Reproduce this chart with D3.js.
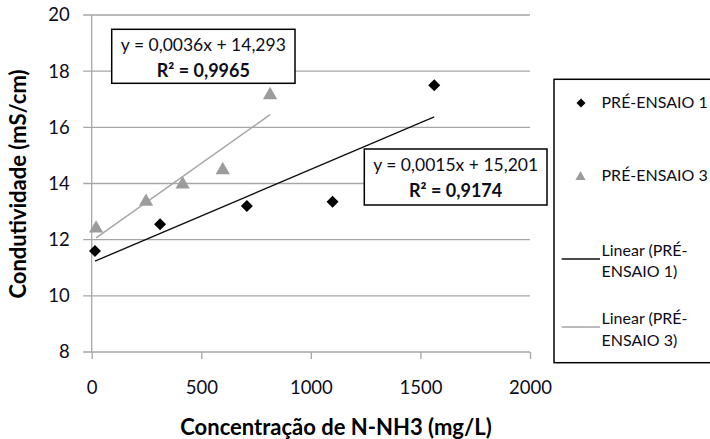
<!DOCTYPE html>
<html><head><meta charset="utf-8">
<script src="https://cdn.jsdelivr.net/npm/d3@7/dist/d3.min.js"></script>
<style>
body{margin:0;background:#fff;}
svg{display:block;font-family:Lato,"Open Sans",sans-serif;}
</style></head>
<body><svg id="c" width="710" height="439"></svg>
<script>
const xTicks = [0, 500, 1000, 1500, 2000];
const yTicks = [8, 10, 12, 14, 16, 18, 20];
const s1x = [15, 312, 708, 1099, 1563];
const s1y = [11.6, 12.55, 13.2, 13.35, 17.5];
const s3x = [20, 248, 415, 598, 814];
const s3y = [12.4, 13.35, 13.97, 14.48, 17.15];
const eq1 = ["y = 0,0036x + 14,293", "R² = 0,9965"];
const eq2 = ["y = 0,0015x + 15,201", "R² = 0,9174"];
const legendLabels = [["PRÉ-ENSAIO 1"], ["PRÉ-ENSAIO 3"], ["Linear (PRÉ-", "ENSAIO 1)"], ["Linear (PRÉ-", "ENSAIO 3)"]];
const xTitle = "Concentração de N-NH3 (mg/L)";
const yTitle = "Condutividade (mS/cm)";

const svg = d3.select("#c");
const x = d3.scaleLinear().domain([0, 2000]).range([91.7, 530]);
const y = d3.scaleLinear().domain([8, 20]).range([352, 15]);
const gridCol = "#a6a6a6";
const txtCol = "#0d0d1a";

svg.append("g").selectAll("line").data(yTicks).join("line")
  .attr("x1", x(0) - 8.5).attr("x2", x(2000))
  .attr("y1", d => y(d)).attr("y2", d => y(d))
  .attr("stroke", gridCol).attr("stroke-width", 1.3);

svg.append("line").attr("x1", x(0)).attr("x2", x(0)).attr("y1", y(20)).attr("y2", y(8))
  .attr("stroke", gridCol).attr("stroke-width", 1.3);

const xa = svg.append("g").attr("transform", `translate(0,${y(8)})`)
  .call(d3.axisBottom(x).tickValues(xTicks).tickSize(7).tickPadding(22).tickFormat(d3.format("d")));
xa.select(".domain").remove();
xa.selectAll(".tick line").attr("stroke", gridCol).attr("stroke-width", 1.3);
xa.selectAll(".tick text").attr("font-size", 18.5).attr("fill", txtCol).attr("font-family", "Lato");

const ya = svg.append("g").attr("transform", `translate(${x(0)},0)`)
  .call(d3.axisLeft(y).tickValues(yTicks).tickSize(0).tickPadding(22).tickFormat(d3.format("d")));
ya.select(".domain").remove();
ya.selectAll(".tick text").attr("font-size", 18.5).attr("fill", txtCol).attr("font-family", "Lato");

function fit(xs, ys) {
  const n = xs.length, mx = d3.mean(xs), my = d3.mean(ys);
  let sxy = 0, sxx = 0;
  for (let i = 0; i < n; i++) { sxy += (xs[i]-mx)*(ys[i]-my); sxx += (xs[i]-mx)**2; }
  const b = sxy / sxx, a = my - b * mx;
  const x0 = d3.min(xs), x1 = d3.max(xs);
  return [[x0, a + b*x0], [x1, a + b*x1]];
}
const line = d3.line().x(d => x(d[0])).y(d => y(d[1]));
svg.append("path").attr("d", line(fit(s3x, s3y))).attr("stroke", "#a6a6a6").attr("stroke-width", 1.4).attr("fill", "none");
svg.append("path").attr("d", line(fit(s1x, s1y))).attr("stroke", "#111").attr("stroke-width", 1.4).attr("fill", "none");

const diamond = d3.symbol().type(d3.symbolSquare).size(72);
const tri = d3.symbol().type(d3.symbolTriangle).size(88);
svg.append("g").selectAll("path").data(s3x.map((v,i)=>[v,s3y[i]])).join("path")
  .attr("d", tri).attr("transform", d => `translate(${x(d[0])},${y(d[1])})`).attr("fill", "#9c9c9c");
svg.append("g").selectAll("path").data(s1x.map((v,i)=>[v,s1y[i]])).join("path")
  .attr("d", diamond).attr("transform", d => `translate(${x(d[0])},${y(d[1])}) rotate(45)`).attr("fill", "#000");

function eqBox(x0, y0, w, h, lines) {
  const g = svg.append("g");
  g.append("rect").attr("x", x0).attr("y", y0).attr("width", w).attr("height", h)
    .attr("fill", "#fff").attr("stroke", "#000").attr("stroke-width", 1.5);
  g.append("text").attr("x", x0 + w/2).attr("y", y0 + 22).attr("text-anchor", "middle")
    .attr("font-size", 17.5).attr("fill", txtCol).text(lines[0]);
  g.append("text").attr("x", x0 + w/2).attr("y", y0 + 48).attr("text-anchor", "middle")
    .attr("font-size", 18).attr("font-weight", "bold").attr("fill", txtCol).text(lines[1]);
}
eqBox(111.7, 29.3, 183.3, 54, eq1);
eqBox(364.3, 149, 182.7, 56, eq2);

svg.append("rect").attr("x", 554).attr("y", 79.3).attr("width", 170).attr("height", 283.4)
  .attr("fill", "#fff").attr("stroke", "#000").attr("stroke-width", 1.5);
const lg = svg.append("g").attr("font-size", 16).attr("fill", txtCol);
const legY = [[102], [175], [250, 271], [318, 340]];
legendLabels.forEach((lbl, i) => {
  lbl.forEach((t, j) => {
    lg.append("text").attr("x", 601.5).attr("y", legY[i][j]).attr("dy", "0.35em").text(t);
  });
});
svg.append("path").attr("d", diamond.size(40)).attr("transform", `translate(581,103) rotate(45)`).attr("fill", "#000");
svg.append("path").attr("d", tri.size(45)).attr("transform", `translate(580.5,177)`).attr("fill", "#9c9c9c");
svg.append("line").attr("x1", 561.7).attr("x2", 600).attr("y1", 259).attr("y2", 259).attr("stroke", "#111").attr("stroke-width", 1.3);
svg.append("line").attr("x1", 561.7).attr("x2", 600).attr("y1", 327).attr("y2", 327).attr("stroke", "#a6a6a6").attr("stroke-width", 1.3);

svg.append("text").attr("x", 336).attr("y", 427).attr("dy", "0.35em").attr("text-anchor", "middle")
  .attr("font-size", 22).attr("font-weight", "bold").attr("fill", "#000").text(xTitle);
svg.append("text").attr("transform", "translate(18,184) rotate(-90)").attr("dy", "0.35em").attr("text-anchor", "middle")
  .attr("font-size", 22).attr("font-weight", "bold").attr("fill", "#000").text(yTitle);
</script></body></html>
